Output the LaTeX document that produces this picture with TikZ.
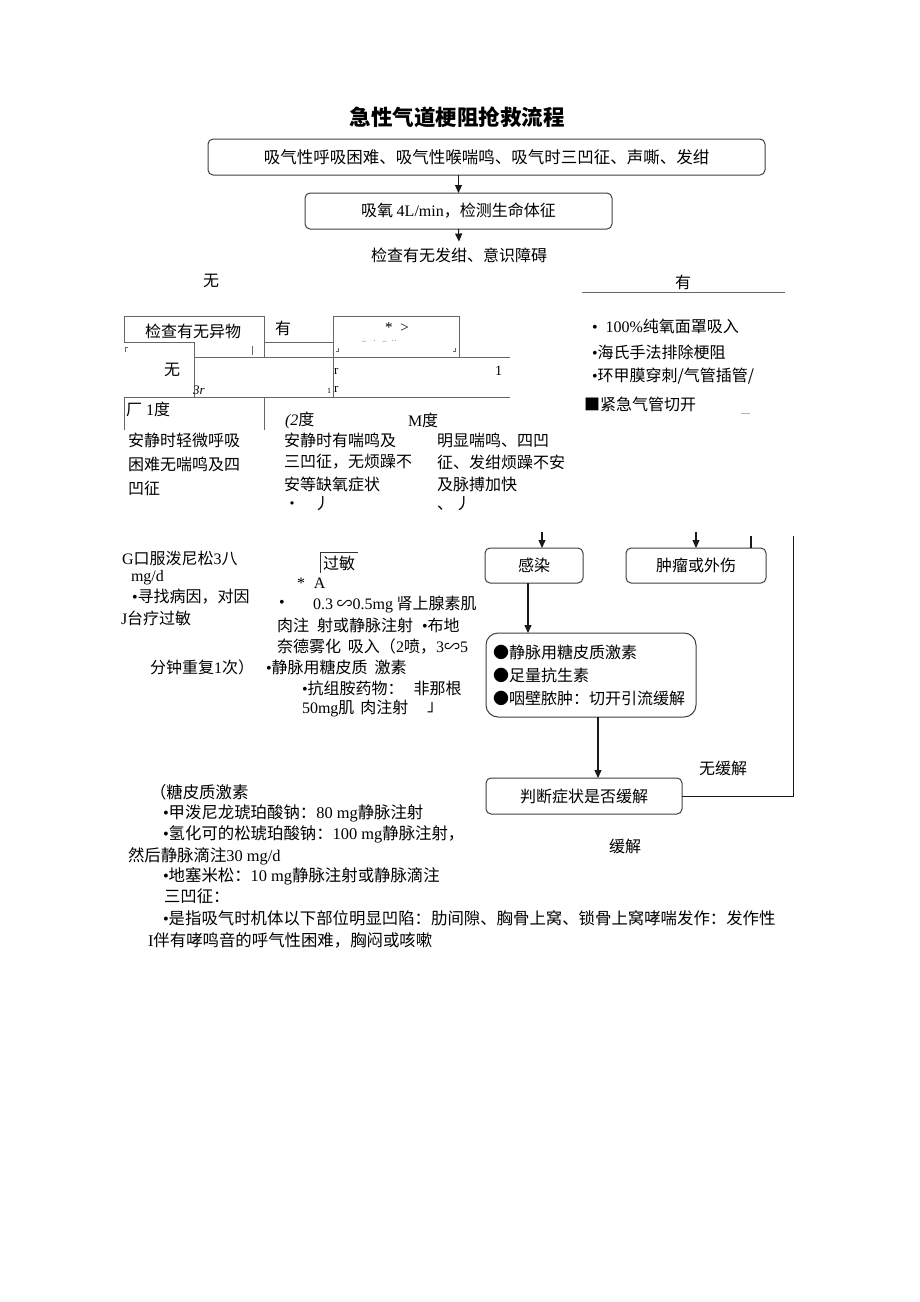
\documentclass[tikz,border=0pt]{standalone}
\usepackage{fontspec}
\setmainfont{Noto Sans CJK SC}
\newfontfamily\lafont{Liberation Serif}
\newcommand\lt[1]{{\lafont #1}}
\newcommand\bu{{\lafont •}}
\usetikzlibrary{arrows.meta}
\begin{document}
\begin{tikzpicture}[x=1pt,y=-1pt,
  every node/.style={inner sep=0pt,outer sep=0pt},
  f/.style={font=\fontsize{16}{19}\selectfont},
  t/.style={f,anchor=west},
  tb/.style={anchor=west,font=\fontsize{16.4}{19}\selectfont},
  sm/.style={anchor=west,font=\fontsize{13}{15}\selectfont},
  box/.style={draw=black!75,line width=1pt,rounded corners=5pt,f,align=center},
  gl/.style={draw=black!60,line width=0.8pt},
  arr/.style={draw=black!90,line width=1.1pt,-{Triangle[length=8pt,width=7pt]}}]
\fill[white] (0,0) rectangle (920,1302);
\useasboundingbox (0,0) rectangle (920,1302);

% title and top flow
\node[font=\fontsize{21.5}{24}\selectfont\bfseries] (title) at (457,117) {急性气道梗阻抢救流程};
\node[box,minimum width=557pt,minimum height=36pt,font=\fontsize{16.5}{20}\selectfont] (b1) at (486.5,157) {吸气性呼吸困难、吸气性喉喘鸣、吸气时三凹征、声嘶、发绀};
\node[box,minimum width=307pt,minimum height=36pt] (b2) at (458.5,211) {吸氧 \lt{4L/min}，检测生命体征};
\node[f] (chk) at (459,255) {检查有无发绀、意识障碍};
\draw[arr] (b2.north |- b1.south) -- (b2.north);
\draw[arr] (b2.south) -- ([yshift=6pt]chk.north);

\node[f] (wu1) at (211,281) {无};
\node[f] (you1) at (683,282) {有};
\draw[draw=black!60,line width=0.8pt] (582,292) -- (785,292);

% right list
\node[t] (r1) at (592,326) {\bu\hspace{8pt}\lt{100\%}纯氧面罩吸入};
\node[t] (r2) at (592,352) {\bu 海氏手法排除梗阻};
\node[t] (r3) at (592,376) {\bu 环甲膜穿刺/气管插管/};
\node[t] (r4) at (584,404) {■紧急气管切开};
\draw[draw=black!30,line width=0.6pt] (741,413) -- (750,413);

% grid region
\node[f] (yiwu) at (193,331) {检查有无异物};
\draw[gl] (124,342) -- (124,316) -- (264,316) -- (264,357);
\draw[gl] (124,342) -- (194,342) -- (194,397);
\draw[gl] (264,342) -- (333,342);
\draw[gl] (333,397) -- (333,316) -- (459,316) -- (459,357);
\draw[gl] (194,357) -- (510,357);
\draw[gl] (124,430) -- (124,397) -- (510,397);
\draw[gl] (264,397) -- (264,430);
\draw[gl] (252,346) -- (252,355);
\draw[gl,line width=0.5pt] (125,352) -- (125,347) -- (128,347);
\draw[gl,line width=0.5pt] (338,348) -- (338,351) -- (336,351);
\draw[gl,line width=0.5pt] (455,348) -- (455,351) -- (453,351);
\node[f] (you2) at (283,328) {有};
\node[anchor=west,font=\fontsize{15}{17}\selectfont] (star) at (385,328) {\lt{*\hspace{8pt}>}};
\node[anchor=west,font=\fontsize{8}{9}\selectfont,text=black!60] (dash) at (362,342) {\lt{–\hspace{7pt}·\hspace{7pt}–\hspace{5pt}··}};
\node[f] (wu2) at (172,370) {无};
\node[sm] (tr) at (193,390) {\lt{\itshape 3r}};
\node[sm] (ra) at (334,371) {\lt{r}};
\node[sm] (rb) at (334,389) {\lt{r}};
\node[anchor=west,font=\fontsize{8}{9}\selectfont] (one) at (327,391) {\lt{1}};
\node[anchor=west,font=\fontsize{14}{16}\selectfont] (oneb) at (495,371) {\lt{1}};
\node[t] (d1) at (126,409) {厂\hspace{4pt}\lt{1}度};
\node[t] (d2) at (285,420) {\lt{\itshape (2}度};
\node[t] (d3) at (408,420) {\lt{M}度};

% degree descriptions
\node[t] (a1) at (128,440) {安静时轻微呼吸};
\node[t] (a2) at (128,464) {困难无喘鸣及四};
\node[t] (a3) at (128,488) {凹征};
\node[t] (m1) at (284,440) {安静时有喘鸣及};
\node[t] (m2) at (284,462) {三凹征，无烦躁不};
\node[t] (m3) at (284,484) {安等缺氧症状};
\node[t] (m4) at (284,504) {·\hspace{14pt}丿};
\node[t] (s1) at (437,440) {明显喘鸣、四凹};
\node[t] (s2) at (437,462) {征、发绀烦躁不安};
\node[t] (s3) at (437,484) {及脉搏加快};
\node[t] (s4) at (437,504) {、\hspace{2pt}丿};

% lower left
\node[t] (g1) at (122,558) {\lt{G}口服泼尼松\lt{3}八};
\node[t] (g2) at (131,578) {\lt{mg/d}};
\node[t] (g3) at (132,597) {\bu 寻找病因，对因};
\node[t] (g4) at (121,618) {\lt{J}台疗过敏};
\node[t] (g5) at (150,667) {分钟重复\lt{1}次）};

% allergy block
\node[t] (gm) at (323,563) {过敏};
\draw[gl,draw=black!80] (320,573) -- (320,552) -- (358,552);
\node[t] (stA) at (297,583) {\lt{*\hspace{9pt}A}};
\node[t] (bul) at (279,604) {\bu};
\node[t] (h1) at (313,604) {\lt{0.3} ∽\lt{0.5mg} 肾上腺素肌};
\node[t] (h2) at (277,625) {肉注\hspace{8pt}射或静脉注射\hspace{9pt}\bu 布地};
\node[t] (h3) at (277,646) {奈德雾化\hspace{7pt}吸入（\lt{2}喷，\lt{3}∽\lt{5}};
\node[t] (h4) at (266,667) {\bu 静脉用糖皮质\hspace{7pt}激素};
\node[t] (h5) at (302,688) {\bu 抗组胺药物：\hspace{10pt}非那根};
\node[t] (h6) at (302,708) {\lt{50mg}肌\hspace{6pt}肉注射};
\node[t] (h7) at (427,708) {」};

% right flow
\node[box,minimum width=98pt,minimum height=35pt] (gan) at (534,565.5) {感染};
\node[box,minimum width=140pt,minimum height=35pt] (zl) at (696,565.5) {肿瘤或外伤};
\node[box,rounded corners=12pt,minimum width=210pt,minimum height=84pt,text width=196pt,align=left,font=\fontsize{16}{23}\selectfont] (b3) at (591,675) {●静脉用糖皮质激素\\●足量抗生素\\●咽壁脓肿：切开引流缓解};
\node[box,minimum width=196pt,minimum height=36pt] (pd) at (584,796) {判断症状是否缓解};
\coordinate (t1) at (542,532);
\coordinate (t2) at (696,532);
\coordinate (t3) at (751,536);
\coordinate (t4) at (793,536);
\draw[arr] (t1) -- (t1 |- gan.north);
\draw[arr] (t2) -- (t2 |- zl.north);
\draw[draw=black!90,line width=1.1pt] (t3) -- (t3 |- zl.north);
\draw[draw=black!90,line width=1pt] (t4) -- (t4 |- pd.east) -- (pd.east);
\draw[arr] ([xshift=-6pt]gan.south) -- ([xshift=-6pt]gan.south |- b3.north);
\draw[arr] ([xshift=7pt]b3.south) -- ([xshift=7pt]b3.south |- pd.north);
\node[f] (wuhj) at (723,768) {无缓解};
\node[f] (hj) at (625,846) {缓解};

% bottom notes
\node[tb] (n1) at (150,792) {（糖皮质激素};
\node[tb] (n2) at (163,813) {\bu 甲泼尼龙琥珀酸钠：\lt{80 mg}静脉注射};
\node[tb] (n3) at (163,834) {\bu 氢化可的松琥珀酸钠：\lt{100 mg}静脉注射，};
\node[tb] (n4) at (128,856) {然后静脉滴注\lt{30 mg/d}};
\node[tb] (n5) at (163,876) {\bu 地塞米松：\lt{10 mg}静脉注射或静脉滴注};
\node[tb] (n6) at (164,896) {三凹征：};
\node[tb] (n7) at (163,918) {\bu 是指吸气时机体以下部位明显凹陷：肋间隙、胸骨上窝、锁骨上窝哮喘发作：发作性};
\node[tb] (n8) at (148,940) {\lt{I}伴有哮鸣音的呼气性困难，胸闷或咳嗽};
\end{tikzpicture}
\end{document}
